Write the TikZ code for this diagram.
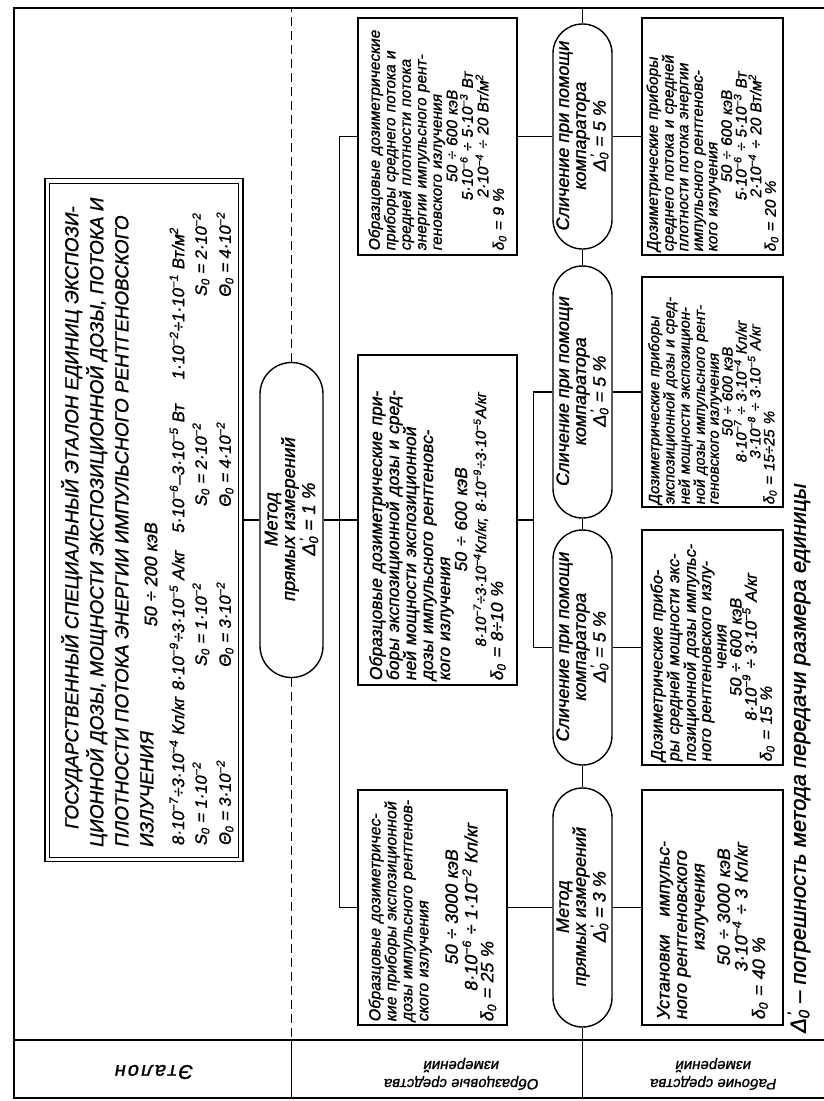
\documentclass[tikz,border=0pt]{standalone}
\usepackage{fontspec}
\setmainfont{Liberation Sans}[FakeSlant=0.18,FakeBold=1.2]
\usetikzlibrary{shapes.misc}
\newcommand\spx[1]{\textsuperscript{#1}}
\newcommand\sbz{\textsubscript{0}}
\newcommand\Dnull{Δ\makebox[0pt][l]{\textsuperscript{\,'}}\textsubscript{0}}
\newcommand\fsz[2]{\fontsize{#1}{#2}\selectfont}
\begin{document}
\begin{tikzpicture}[x=1pt,y=-1pt,
  bx/.style={draw,line width=1.4pt,rotate=90,inner sep=0pt},
  capsule/.style={draw,line width=1.4pt,rotate=90,rounded rectangle,inner sep=0pt,align=center},
  ln/.style={line width=1.2pt},
  sep/.style={line width=1pt,dash pattern=on 9pt off 5pt},
  tx/.style={rotate=90,inner sep=0pt},
  val/.style={rotate=90,inner sep=0pt,font=\fsz{17}{20}},
  lab/.style={rotate=180,inner sep=0pt,align=center,font=\fsz{15}{18}}]
\useasboundingbox (0,0) rectangle (824,1101);
\coordinate (topL) at (0,8);
\coordinate (botL) at (0,1040);
\coordinate (bot) at (0,1098);
% frame
\draw[line width=1.2pt] (824,8) -- (14,8) -- (14,1098) -- (824,1098);
\draw[line width=1.2pt] (14,1040) -- (824,1040);

% ---------- Etalon ----------
\node[bx,line width=1.8pt,minimum width=683pt,minimum height=198pt] (et) at (144,520) {};
\draw[line width=0.8pt] (49.5,183) rectangle (238.5,857);
\node[tx,anchor=north west,align=left,font=\fsz{19}{25}] (ett) at (61,848)
 {\hspace*{18pt}ГОСУДАРСТВЕННЫЙ СПЕЦИАЛЬНЫЙ ЭТАЛОН ЕДИНИЦ ЭКСПОЗИ-\\ЦИОННОЙ ДОЗЫ, МОЩНОСТИ ЭКСПОЗИЦИОННОЙ ДОЗЫ, ПОТОКА И\\ПЛОТНОСТИ ПОТОКА ЭНЕРГИИ ИМПУЛЬСНОГО РЕНТГЕНОВСКОГО\\ИЗЛУЧЕНИЯ};
\node[tx,font=\fsz{18}{20}] (e50) at (151,575) {50 ÷ 200 кэВ};
\node[val,anchor=west] (v1) at (177,846) {8·10\spx{−7}÷3·10\spx{−4} Кл/кг};
\node[val] (v2) at (177,621) {8·10\spx{−9}÷3·10\spx{−5} А/кг};
\node[val] (v3) at (177,469) {5·10\spx{−6}–3·10\spx{−5} Вт};
\node[val] (v4) at (177,304) {1·10\spx{−2}÷1·10\spx{−1} Вт/м\spx{2}};
\node[tx,anchor=west,font=\fsz{16.5}{20}] (s1) at (201,846) {S\sbz{} = 1·10\spx{−2}};
\node[tx,anchor=west,font=\fsz{16.5}{20}] (t1) at (225,846) {Θ\sbz{} = 3·10\spx{−2}};
\node[tx,font=\fsz{16.5}{20}] (s2) at (201,625) {S\sbz{} = 1·10\spx{−2}};
\node[tx,font=\fsz{16.5}{20}] (t2) at (225,625) {Θ\sbz{} = 3·10\spx{−2}};
\node[tx,font=\fsz{16.5}{20}] (s3) at (201,465) {S\sbz{} = 2·10\spx{−2}};
\node[tx,font=\fsz{16.5}{20}] (t3) at (225,465) {Θ\sbz{} = 4·10\spx{−2}};
\node[tx,font=\fsz{16.5}{20}] (s4) at (201,255) {S\sbz{} = 2·10\spx{−2}};
\node[tx,font=\fsz{16.5}{20}] (t4) at (225,255) {Θ\sbz{} = 4·10\spx{−2}};

% ---------- capsule row1/row2 ----------
\node[capsule,minimum width=315pt,minimum height=63pt,font=\fsz{18.5}{17.5}] (k0) at (291.5,520) {Метод\\прямых измерений\\\Dnull{} = 1 \%};

% ---------- row 2 boxes ----------
\node[bx,minimum width=237pt,minimum height=159pt,text width=229pt,font=\fsz{15.5}{15.5}] (b1) at (437.5,136.5)
 {Образцовые дозиметрические\\приборы среднего потока и\\средней плотности потока\\энергии импульсного рент-\\геновского излучения\par
  \centering 50 ÷ 600 кэВ\\5·10\spx{−6} ÷ 5·10\spx{−3} Вт\\2·10\spx{−4} ÷ 20 Вт/м\spx{2}\\δ\sbz{} = 9 \%};
\node[bx,minimum width=330pt,minimum height=159pt,text width=322pt,font=\fsz{17.5}{17}] (b2) at (437.5,520)
 {Образцовые дозиметрические при-\\боры экспозиционной дозы и сред-\\ней мощности экспозиционной\\дозы импульсного рентгеновс-\\кого излучения\par
  \centering 50 ÷ 600 кэВ\par
  {\fsz{15}{19}8·10\spx{−7}÷3·10\spx{−4}Кл/кг, 8·10\spx{−9}÷3·10\spx{−5}А/кг\par}
  δ\sbz{} = 8÷10 \%};
\node[bx,minimum width=235pt,minimum height=149pt,text width=229pt,font=\fsz{16}{16}] (b3) at (432.5,907.5)
 {Образцовые дозиметричес-\\кие приборы экспозиционной\\дозы импульсного рентгенов-\\ского излучения\par\vspace{10pt}
  \centering\fsz{18}{19.5} 50 ÷ 3000 кэВ\\8·10\spx{−6} ÷ 1·10\spx{−2} Кл/кг\\δ\sbz{} = 25 \%};

% ---------- capsules row2/row3 ----------
\node[capsule,minimum width=225pt,minimum height=59pt,font=\fsz{18}{17}] (c1) at (582.5,136.5) {Сличение при помощи\\компаратора\\\Dnull{} = 5 \%};
\node[capsule,minimum width=252pt,minimum height=59pt,font=\fsz{18}{17}] (c2) at (582.5,392) {Сличение при помощи\\компаратора\\\Dnull{} = 5 \%};
\node[capsule,minimum width=235pt,minimum height=59pt,font=\fsz{18}{17}] (c3) at (582.5,647.5) {Сличение при помощи\\компаратора\\\Dnull{} = 5 \%};
\node[capsule,minimum width=239pt,minimum height=59pt,font=\fsz{18}{17}] (c4) at (582.5,907.5) {Метод\\прямых измерений\\\Dnull{} = 3 \%};

% ---------- row 3 boxes ----------
\node[bx,minimum width=237pt,minimum height=141pt,text width=231pt,font=\fsz{15.5}{14.6}] (r1) at (712.5,136.5)
 {Дозиметрические приборы\\среднего потока и средней\\плотности потока энергии\\импульсного рентгеновс-\\кого излучения\par
  \centering 50 ÷ 600 кэВ\\5·10\spx{−6} ÷ 5·10\spx{−3} Вт\\2·10\spx{−4} ÷ 20 Вт/м\spx{2}\\δ\sbz{} = 20 \%};
\node[bx,minimum width=230pt,minimum height=141pt,text width=226pt,font=\fsz{15}{13.9}] (r2) at (712.5,392)
 {Дозиметрические приборы\\экспозиционной дозы и сред-\\ней мощности экспозицион-\\ной дозы импульсного рент-\\геновского излучения\par
  \centering 50 ÷ 600 кэВ\\8·10\spx{−7} ÷ 3·10\spx{−4} Кл/кг\\3·10\spx{−8} ÷ 3·10\spx{−5} А/кг\\δ\sbz{} = 15÷25 \%};
\node[bx,minimum width=235pt,minimum height=141pt,text width=229pt,font=\fsz{16.5}{15.2}] (r3) at (712.5,647.5)
 {Дозиметрические прибо-\\ры средней мощности экс-\\позиционной дозы импульс-\\ного рентгеновского излу-\par
  \centering чения\\50 ÷ 600 кэВ\\8·10\spx{−9} ÷ 3·10\spx{−5} А/кг\\δ\sbz{} = 15 \%};
\node[bx,minimum width=235pt,minimum height=141pt,text width=225pt,font=\fsz{18}{17.5}] (r4) at (712.5,907.5)
 {Установки\ \ \ импульс-\\ного рентгеновского\par
  \centering излучения\par\vspace{8pt}
  50 ÷ 3000 кэВ\\3·10\spx{−4} ÷ 3 Кл/кг\\δ\sbz{} = 40 \%};

% ---------- connectors ----------
\draw[ln] (et.south) -- (k0.north);
\draw[ln] (k0.south) -- (b2.north);
\draw[ln] (b1.north) -- ++(-18,0) |- (b3.north);
\draw[ln] (b1.south) -- (c1.north);
\draw[ln] (c1.south) -- (r1.north);
\draw[ln] (b2.south) -- ++(16,0) coordinate (fk);
\draw[ln] (c2.north) -| (fk) |- (c3.north);
\draw[ln] (c2.south) -- (r2.north);
\draw[ln] (c3.south) -- (r3.north);
\draw[ln] (b3.south) -- (c4.north);
\draw[ln] (c4.south) -- (r4.north);

% ---------- separators ----------
\draw[sep] (k0.east) -- (k0.east |- topL);
\draw[sep] (k0.west) -- (k0.west |- botL);
\draw[ln] (c1.east) -- (c1.east |- topL);
\draw[ln] (c1.west) -- (c2.east);
\draw[ln] (c2.west) -- (c3.east);
\draw[ln] (c3.west) -- (c4.east);
\draw[ln] (c4.west) -- (c4.west |- botL);
\draw[ln] (k0.west |- botL) -- (k0.west |- bot);
\draw[ln] (c4.west |- botL) -- (c4.west |- bot);

% ---------- labels ----------
\node[lab,font=\fsz{20}{20}\addfontfeature{LetterSpace=10}] (l1) at (155,1072) {Эталон};
\node[lab] (l2) at (462,1074) {Образцовые средства\\измерений};
\node[lab] (l3) at (714,1074) {Рабочие средства\\измерений};

% ---------- note ----------
\node[tx,anchor=west,font=\fsz{22}{22}] (nt) at (799,1034) {\Dnull{} – погрешность метода передачи размера единицы};
\end{tikzpicture}
\end{document}
